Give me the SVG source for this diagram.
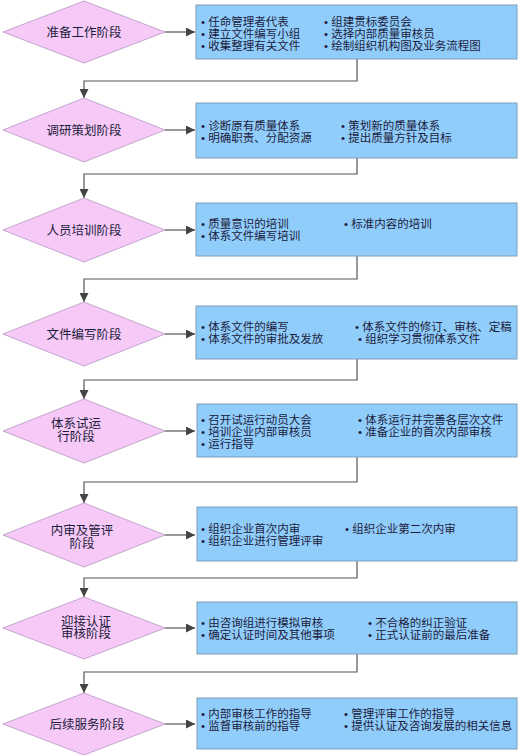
<svg xmlns="http://www.w3.org/2000/svg" width="520" height="755" viewBox="0 0 520 755">
<defs>
<marker id="ah" viewBox="0 0 10 10" refX="10" refY="5" markerWidth="10" markerHeight="9" markerUnits="userSpaceOnUse" orient="auto">
<path d="M0,0 L10,5 L0,10 z" fill="#444"/>
</marker>
<style>
.dia{fill:#f6c9f6;stroke:#c4a6cc;stroke-width:1}
.box{fill:#91cdfb;stroke:#7f9db5;stroke-width:1}
.lbl{font-family:"Liberation Sans","Noto Sans CJK SC",sans-serif;font-size:12.5px;fill:#1c1c3c;text-anchor:middle}
.it{font-family:"Liberation Sans","Noto Sans CJK SC",sans-serif;font-size:11.5px;fill:#1c1c3c}
.con{fill:none;stroke:#555;stroke-width:1.2}
</style>
</defs>
<rect width="520" height="755" fill="#fff"/>

<g id="connectors">
<path class="con" d="M165,32 H195" marker-end="url(#ah)"/>
<path class="con" d="M165,130 H195" marker-end="url(#ah)"/>
<path class="con" d="M165,230 H195" marker-end="url(#ah)"/>
<path class="con" d="M165,334 H195" marker-end="url(#ah)"/>
<path class="con" d="M165,431 H195" marker-end="url(#ah)"/>
<path class="con" d="M165,535 H195" marker-end="url(#ah)"/>
<path class="con" d="M165,628 H195" marker-end="url(#ah)"/>
<path class="con" d="M165,724 H195" marker-end="url(#ah)"/>
<path class="con" d="M357,59 V81 H84 V98" marker-end="url(#ah)"/>
<path class="con" d="M357,158 V174 H84 V198" marker-end="url(#ah)"/>
<path class="con" d="M357,256 V279 H84 V302" marker-end="url(#ah)"/>
<path class="con" d="M357,359 V380 H84 V399" marker-end="url(#ah)"/>
<path class="con" d="M357,457 V482 H84 V503" marker-end="url(#ah)"/>
<path class="con" d="M357,561 V578 H84 V597" marker-end="url(#ah)"/>
<path class="con" d="M357,654 V672 H84 V693" marker-end="url(#ah)"/>
</g>

<g id="stage1">
<polygon class="dia" points="84,1 165,32 84,63 3,32"/>
<text class="lbl" x="84" y="36.5">准备工作阶段</text>
</g>
<g id="box1">
<rect class="box" x="196" y="5" width="321" height="54"/>
<text class="it" x="201" y="26"><tspan x="201">• 任命管理者代表</tspan><tspan x="201" dy="11.8">• 建立文件编写小组</tspan><tspan x="201" dy="11.8">• 收集整理有关文件</tspan></text>
<text class="it" x="324" y="26"><tspan x="324">• 组建贯标委员会</tspan><tspan x="324" dy="11.8">• 选择内部质量审核员</tspan><tspan x="324" dy="11.8">• 绘制组织机构图及业务流程图</tspan></text>
</g>

<g id="stage2">
<polygon class="dia" points="84,98 165,130 84,162 3,130"/>
<text class="lbl" x="84" y="134.5">调研策划阶段</text>
</g>
<g id="box2">
<rect class="box" x="196" y="103" width="321" height="55"/>
<text class="it" x="201" y="130"><tspan x="201">• 诊断原有质量体系</tspan><tspan x="201" dy="12">• 明确职责、分配资源</tspan></text>
<text class="it" x="341" y="130"><tspan x="341">• 策划新的质量体系</tspan><tspan x="341" dy="12">• 提出质量方针及目标</tspan></text>
</g>

<g id="stage3">
<polygon class="dia" points="84,198 165,230 84,262 3,230"/>
<text class="lbl" x="84" y="234.5">人员培训阶段</text>
</g>
<g id="box3">
<rect class="box" x="196" y="203" width="321" height="53"/>
<text class="it" x="201" y="228"><tspan x="201">• 质量意识的培训</tspan><tspan x="201" dy="12">• 体系文件编写培训</tspan></text>
<text class="it" x="344" y="228">• 标准内容的培训</text>
</g>

<g id="stage4">
<polygon class="dia" points="84,302 165,334 84,366 3,334"/>
<text class="lbl" x="84" y="338.5">文件编写阶段</text>
</g>
<g id="box4">
<rect class="box" x="196" y="306" width="321" height="53"/>
<text class="it" x="201" y="331"><tspan x="201">• 体系文件的编写</tspan><tspan x="201" dy="12">• 体系文件的审批及发放</tspan></text>
<text class="it" x="355" y="331"><tspan x="355">• 体系文件的修订、审核、定稿</tspan><tspan x="358" dy="12">• 组织学习贯彻体系文件</tspan></text>
</g>

<g id="stage5">
<polygon class="dia" points="84,399 165,431 84,463 3,431"/>
<text class="lbl" x="76" y="428"><tspan x="76">体系试运</tspan><tspan x="76" dy="13">行阶段</tspan></text>
</g>
<g id="box5">
<rect class="box" x="197" y="404" width="320" height="53"/>
<text class="it" x="201" y="424"><tspan x="201">• 召开试运行动员大会</tspan><tspan x="201" dy="12">• 培训企业内部审核员</tspan><tspan x="201" dy="11.8">• 运行指导</tspan></text>
<text class="it" x="358" y="424"><tspan x="358">• 体系运行并完善各层次文件</tspan><tspan x="358" dy="12">• 准备企业的首次内部审核</tspan></text>
</g>

<g id="stage6">
<polygon class="dia" points="84,503 165,535 84,567 3,535"/>
<text class="lbl" x="82" y="534.5"><tspan x="82">内审及管评</tspan><tspan x="82" dy="13">阶段</tspan></text>
</g>
<g id="box6">
<rect class="box" x="197" y="507" width="320" height="54"/>
<text class="it" x="201" y="533"><tspan x="201">• 组织企业首次内审</tspan><tspan x="201" dy="12">• 组织企业进行管理评审</tspan></text>
<text class="it" x="345" y="533">• 组织企业第二次内审</text>
</g>

<g id="stage7">
<polygon class="dia" points="84,597 165,628 84,659 3,628"/>
<text class="lbl" x="86" y="625.5"><tspan x="86">迎接认证</tspan><tspan x="86" dy="12.8">审核阶段</tspan></text>
</g>
<g id="box7">
<rect class="box" x="197" y="602" width="320" height="52"/>
<text class="it" x="201" y="627"><tspan x="201">• 由咨询组进行模拟审核</tspan><tspan x="201" dy="11.8">• 确定认证时间及其他事项</tspan></text>
<text class="it" x="368" y="627"><tspan x="368">• 不合格的纠正验证</tspan><tspan x="368" dy="11.8">• 正式认证前的最后准备</tspan></text>
</g>

<g id="stage8">
<polygon class="dia" points="84,693 165,724 84,755 3,724"/>
<text class="lbl" x="87" y="728.5">后续服务阶段</text>
</g>
<g id="box8">
<rect class="box" x="197" y="698" width="320" height="51"/>
<text class="it" x="201" y="718"><tspan x="201">• 内部审核工作的指导</tspan><tspan x="201" dy="12">• 监督审核前的指导</tspan></text>
<text class="it" x="344" y="718"><tspan x="344">• 管理评审工作的指导</tspan><tspan x="344" dy="12">• 提供认证及咨询发展的相关信息</tspan></text>
</g>
</svg>
